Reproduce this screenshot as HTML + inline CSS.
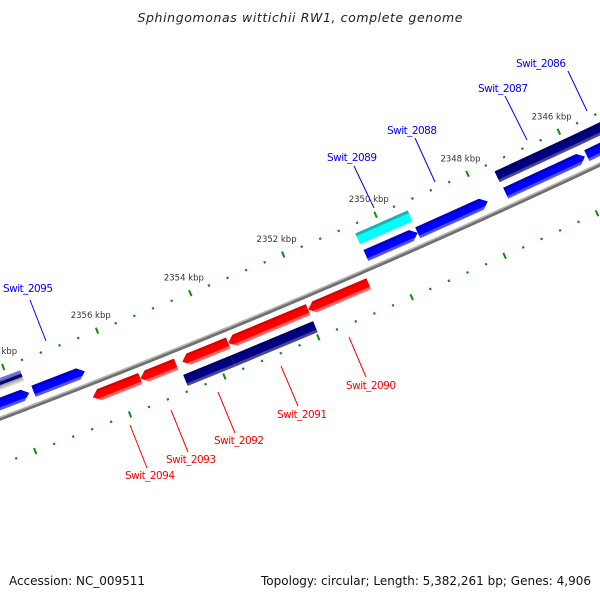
<!DOCTYPE html>
<html><head><meta charset="utf-8"><title>Sphingomonas wittichii RW1 genome map</title>
<style>
html,body{margin:0;padding:0;background:#fff;}
svg{display:block;font-family:"DejaVu Sans","Liberation Sans",sans-serif;}
</style></head>
<body>
<svg id="map" width="600" height="600" viewBox="0 0 600 600" xmlns="http://www.w3.org/2000/svg">
<defs>
<linearGradient id="g-red" x1="0" y1="0" x2="0" y2="1"><stop offset="0" stop-color="#d40000"/><stop offset="0.2" stop-color="#e00000"/><stop offset="0.22" stop-color="#ff0000"/><stop offset="0.74" stop-color="#ff0000"/><stop offset="0.77" stop-color="#ff5a5a"/><stop offset="1" stop-color="#ff7070"/></linearGradient>
<linearGradient id="g-blue" x1="0" y1="0" x2="0" y2="1"><stop offset="0" stop-color="#0000b8"/><stop offset="0.2" stop-color="#0000c8"/><stop offset="0.22" stop-color="#0000ff"/><stop offset="0.74" stop-color="#0000ff"/><stop offset="0.77" stop-color="#4848ff"/><stop offset="1" stop-color="#5a5aff"/></linearGradient>
<linearGradient id="g-navy" x1="0" y1="0" x2="0" y2="1"><stop offset="0" stop-color="#000060"/><stop offset="0.2" stop-color="#000068"/><stop offset="0.22" stop-color="#000080"/><stop offset="0.74" stop-color="#000080"/><stop offset="0.77" stop-color="#3c3c98"/><stop offset="1" stop-color="#5050a8"/></linearGradient>
<linearGradient id="g-cyan" x1="0" y1="0" x2="0" y2="1"><stop offset="0" stop-color="#18aaaa"/><stop offset="0.24" stop-color="#22b8b8"/><stop offset="0.27" stop-color="#00ffff"/><stop offset="1" stop-color="#00ffff"/></linearGradient>
<linearGradient id="g-purple" x1="0" y1="0" x2="0" y2="1"><stop offset="0" stop-color="#8080d8"/><stop offset="0.3" stop-color="#6060c0"/><stop offset="0.33" stop-color="#000070"/><stop offset="0.55" stop-color="#000070"/><stop offset="0.6" stop-color="#9a9a9a"/><stop offset="1" stop-color="#f0f0f0"/></linearGradient>
</defs>
<rect x="0" y="0" width="600" height="600" fill="#fff"/>
<text x="300" y="22" text-anchor="middle" font-size="12.5" font-style="italic" fill="#222" textLength="325">Sphingomonas wittichii RW1, complete genome</text>
<g id="ticks"></g>
<g id="backbone"></g>
<g id="genes"></g>
<g id="tlabels"></g>
<g font-size="10.5">
<line x1="30" y1="300" x2="46" y2="341" stroke="#0000ff" stroke-width="1"/>
<text x="3" y="292" fill="#0000ff" textLength="50">Swit_2095</text>
<line x1="354" y1="166" x2="374" y2="208" stroke="#0000ff" stroke-width="1"/>
<text x="327" y="161" fill="#0000ff" textLength="50">Swit_2089</text>
<line x1="415" y1="138" x2="435" y2="182" stroke="#0000ff" stroke-width="1"/>
<text x="387" y="134" fill="#0000ff" textLength="50">Swit_2088</text>
<line x1="505" y1="96" x2="527" y2="140" stroke="#0000ff" stroke-width="1"/>
<text x="478" y="92" fill="#0000ff" textLength="50">Swit_2087</text>
<line x1="568" y1="71" x2="587" y2="111" stroke="#0000ff" stroke-width="1"/>
<text x="516" y="67" fill="#0000ff" textLength="50">Swit_2086</text>
<line x1="349" y1="337" x2="366" y2="377" stroke="#ff0000" stroke-width="1"/>
<text x="346" y="389" fill="#ff0000" textLength="50">Swit_2090</text>
<line x1="281" y1="366" x2="298" y2="406" stroke="#ff0000" stroke-width="1"/>
<text x="277" y="418" fill="#ff0000" textLength="50">Swit_2091</text>
<line x1="218" y1="392" x2="235" y2="433" stroke="#ff0000" stroke-width="1"/>
<text x="214" y="444" fill="#ff0000" textLength="50">Swit_2092</text>
<line x1="171" y1="410" x2="188" y2="452" stroke="#ff0000" stroke-width="1"/>
<text x="166" y="463" fill="#ff0000" textLength="50">Swit_2093</text>
<line x1="130" y1="425" x2="147" y2="468" stroke="#ff0000" stroke-width="1"/>
<text x="125" y="479" fill="#ff0000" textLength="50">Swit_2094</text>
</g>
<text x="9" y="585" font-size="12" fill="#111" textLength="136">Accession: NC_009511</text>
<text x="591" y="585" font-size="12" fill="#111" text-anchor="end" textLength="330">Topology: circular; Length: 5,382,261 bp; Genes: 4,906</text>
</svg>
<script>
// ---- data (kbp) ----
const geneNames = ["gene-a-left","swit-2095","swit-2089-fwd","swit-2088","swit-2087-fwd","swit-2086-fwd","purple-left","swit-2089","swit-2087","swit-2086","swit-2094","swit-2093","swit-2092","swit-2091","swit-2090","cog-2092","cog-2091"];
const geneStarts = [2359.5,2357.61,2350.50,2349.38,2347.47,2345.70,2359.5,2350.52,2347.49,2345.76,2356.56,2355.55,2354.66,2353.68,2351.97,2354.74,2353.73];
const geneEnds   = [2357.70,2356.52,2349.38,2347.86,2345.74,2343.5,2357.71,2349.38,2345.72,2343.5,2355.55,2354.79,2353.68,2351.97,2350.67,2353.73,2351.97];
const geneRows   = ["A","A","A","A","A","A","B","B","B","B","C","C","C","C","C","D","D"];
const geneColors = ["blue","blue","blue","blue","blue","blue","purple","cyan","navy","navy","red","red","red","red","red","navy","navy"];
const majorTicks = [2344,2346,2348,2350,2352,2354,2356,2358];
const tickLabels = ["2344 kbp","2346 kbp","2348 kbp","2350 kbp","2352 kbp","2354 kbp","2356 kbp","2358 kbp"];
const tickRange = [2342, 2360];
const tickStep = 0.4;

// ---- geometry ----
const NS="http://www.w3.org/2000/svg";
const CX=-2897, CY=-7257, RB=8204, K=0.006166, PHI0=66.7*Math.PI/180;
const ROWS={A:[-19.5,-7.5],B:[-38,-26],C:[7.5,19.5],D:[26,38]};
const ARROW={A:1,B:0,C:-1,D:0};
function phi(b){return PHI0+(b-2351)*K;}
function pt(b,r){const p=phi(b);return [CX+(RB+r)*Math.cos(p),CY+(RB+r)*Math.sin(p)];}
function mk(tag,attrs,parent){const e=document.createElementNS(NS,tag);for(const k in attrs)e.setAttribute(k,attrs[k]);parent.appendChild(e);return e;}

// backbone
const bb=document.getElementById('backbone');
function arcPath(r){let d="";for(let b=tickRange[1];b>=tickRange[0];b-=0.1){const p=pt(b,r);d+=(d?"L":"M")+p[0].toFixed(2)+","+p[1].toFixed(2);}return d;}
const bb1=mk('path',{d:arcPath(0.6),fill:'none',stroke:'#6f6f6f','stroke-width':3.2},bb);


const bb2=mk('path',{d:arcPath(-1.2),fill:'none',stroke:'#b4b4b4','stroke-width':1.6},bb);



// ticks
const tg=document.getElementById('ticks');
const nT=Math.round((tickRange[1]-tickRange[0])/tickStep);
for(let i=0;i<=nT;i++){
  const b=tickRange[0]+i*tickStep;
  const major=majorTicks.some(m=>Math.abs(m-b)<0.01);
  [-47,43].forEach(function(r){
    const h=major?3.2:1.1;
    const a=pt(b,r-h),c=pt(b,r+h);
    const l=mk('line',{x1:a[0],y1:a[1],x2:c[0],y2:c[1],stroke:'#108a10','stroke-width':major?2:2.2},tg);
    
    
  });
}
const tl=document.getElementById('tlabels');
majorTicks.forEach(function(b,i){
  const p=pt(b,-64);
  const t=mk('text',{x:p[0],y:p[1]+3,'text-anchor':'middle','font-size':'8.5',fill:'#333'},tl);
  t.textContent=tickLabels[i];
  
  
});

// genes
const gg=document.getElementById('genes');
geneNames.forEach(function(n,i){
  const s=geneStarts[i], e=geneEnds[i], row=ROWS[geneRows[i]];
  const rm=(row[0]+row[1])/2, h=row[1]-row[0];
  const pL=pt(s,rm), pR=pt(e,rm);
  const dx=pR[0]-pL[0], dy=pR[1]-pL[1];
  const L=Math.sqrt(dx*dx+dy*dy), ang=Math.atan2(dy,dx)*180/Math.PI;
  const g=mk('g',{transform:'translate('+pL[0].toFixed(2)+','+pL[1].toFixed(2)+') rotate('+ang.toFixed(3)+')'},gg);
  
  
  const dir=ARROW[geneRows[i]], hh=h/2, ah=Math.min(7,L/3);
  let pts;
  if(dir===1) pts=[[0,-hh],[L-ah,-hh],[L,0],[L-ah,hh],[0,hh]];
  else if(dir===-1) pts=[[ah,-hh],[L,-hh],[L,hh],[ah,hh],[0,0]];
  else pts=[[0,-hh],[L,-hh],[L,hh],[0,hh]];
  const poly=mk('polygon',{points:pts.map(p=>p[0].toFixed(2)+','+p[1].toFixed(2)).join(' '),fill:'url(#g-'+geneColors[i]+')'},g);
  
  
});
</script>
</body></html>
